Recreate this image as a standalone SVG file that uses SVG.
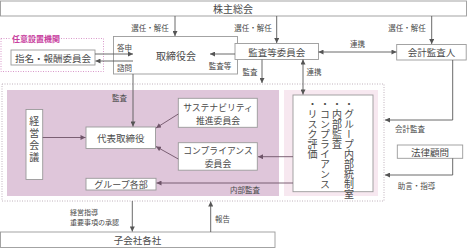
<svg xmlns="http://www.w3.org/2000/svg" width="467" height="248" viewBox="0 0 467 248">
<defs>
<style>
text{font-family:"Noto Sans CJK JP","Noto Sans",sans-serif;fill:#4a4a4a;}
.b{fill:#fff;stroke:#9a9a9a;stroke-width:0.9;}
.t{font-size:9.5px;text-anchor:middle;dominant-baseline:central;}
.s{font-size:7.5px;dominant-baseline:central;}
.c{text-anchor:middle;}
.v{font-size:10px;writing-mode:vertical-rl;}
.ln{fill:none;stroke:#5a5a5a;stroke-width:0.9;}
.li{fill:none;stroke:#6e5468;stroke-width:0.9;}
</style>
<marker id="ah" viewBox="0 0 6 6" refX="6" refY="3" markerWidth="5.5" markerHeight="5" orient="auto-start-reverse" markerUnits="userSpaceOnUse"><path d="M0,0 L6,3 L0,6 z" fill="#555"/></marker>
<marker id="ai" viewBox="0 0 6 6" refX="6" refY="3" markerWidth="5.5" markerHeight="5" orient="auto-start-reverse" markerUnits="userSpaceOnUse"><path d="M0,0 L6,3 L0,6 z" fill="#6e5468"/></marker>
</defs>
<rect width="467" height="248" fill="#fff"/>

<g id="group-area">
<rect x="2" y="84" width="382" height="117" fill="none" stroke="#b9a9b5" stroke-width="0.9" stroke-dasharray="1 1.5"/>
<rect x="7" y="90" width="272" height="106" fill="#dfc6da"/>
<rect x="284" y="90" width="94" height="106" fill="#f7e8f0"/>
</g>

<g id="optional">
<rect x="1" y="38.5" width="102.5" height="33" fill="none" stroke="#d58cc4" stroke-width="0.9" stroke-dasharray="1 1.5"/>
<rect x="10" y="33" width="49" height="11" fill="#fff"/>
<text x="12" y="38.5" class="s" style="font-size:8px;fill:#c8409e;font-weight:bold">任意設置機関</text>
</g>

<g id="shareholders">
<rect x="0.5" y="1" width="466" height="15" class="b"/>
<text x="233" y="8.5" class="t" style="font-size:10px">株主総会</text>
</g>

<g id="nomination">
<rect x="11" y="50" width="84" height="15" class="b"/>
<text x="53" y="57.5" class="t">指名・報酬委員会</text>
</g>

<g id="board">
<rect x="113.5" y="36.5" width="124" height="37.5" class="b"/>
<text x="176" y="55" class="t" style="font-size:10px">取締役会</text>
<text x="124.5" y="47" class="s c">答申</text>
<text x="124.5" y="67.5" class="s c">諮問</text>
<text x="220" y="65" class="s c">監査等</text>
</g>

<g id="audit-committee">
<rect x="235" y="43.5" width="83.5" height="16" class="b"/>
<text x="276.7" y="51.5" class="t">監査等委員会</text>
</g>

<g id="accounting-auditor">
<rect x="396.7" y="44.5" width="69.5" height="15.5" class="b"/>
<text x="431.5" y="52.2" class="t">会計監査人</text>
</g>

<g id="management-meeting">
<rect x="26" y="109.5" width="16.7" height="70" class="b"/>
<text x="34.3" y="116" class="v" style="letter-spacing:2px">経営会議</text>
</g>

<g id="representative">
<rect x="86" y="127" width="69.5" height="21.5" class="b"/>
<text x="120.7" y="137.7" class="t">代表取締役</text>
</g>

<g id="sustainability">
<rect x="178.3" y="98.3" width="79" height="29" class="b"/>
<text x="218" y="107.5" class="t" style="font-size:8.8px">サステナビリティ</text>
<text x="218" y="120" class="t" style="font-size:8.8px">推進委員会</text>
</g>

<g id="compliance">
<rect x="178.3" y="142.7" width="79" height="27.5" class="b"/>
<text x="218" y="150.8" class="t" style="font-size:8.8px">コンプライアンス</text>
<text x="218" y="163" class="t" style="font-size:8.8px">委員会</text>
</g>

<g id="group-depts">
<rect x="86" y="178.3" width="70" height="11.7" class="b"/>
<text x="121" y="184.3" class="t" style="font-size:9px">グループ各部</text>
</g>

<g id="internal-control">
<rect x="293" y="95" width="80" height="96.7" class="b"/>
<text x="349" y="99" class="v">・グループ内部統制室</text>
<text x="337" y="99" class="v">・内部監査</text>
<text x="325" y="99" class="v">・コンプライアンス</text>
<text x="312.5" y="99" class="v">・リスク評価</text>
</g>

<g id="legal">
<rect x="397.3" y="145" width="65.4" height="13.3" class="b"/>
<text x="430" y="151.7" class="t">法律顧問</text>
</g>

<g id="subsidiaries">
<rect x="0.5" y="232" width="274.5" height="15.5" class="b"/>
<text x="137.5" y="239.8" class="t">子会社各社</text>
</g>

<g id="connectors">
<path class="ln" d="M175,16 V36" marker-end="url(#ah)"/>
<path class="ln" d="M276.7,16 V43" marker-end="url(#ah)"/>
<path class="ln" d="M431.7,16 V44" marker-end="url(#ah)"/>
<path class="ln" d="M95,54 H133" marker-end="url(#ah)"/>
<path class="ln" d="M133,61 H95.5" marker-end="url(#ah)"/>
<path class="ln" d="M235,54 H210" marker-end="url(#ah)"/>
<path class="ln" d="M318.5,52 H396.5" marker-start="url(#ah)" marker-end="url(#ah)"/>
<path class="ln" d="M262,59.5 V83" marker-end="url(#ah)"/>
<path class="ln" d="M303,59.5 V94.5" marker-start="url(#ah)" marker-end="url(#ah)"/>
<path class="ln" d="M133,74 V126.5" marker-end="url(#ah)"/>
<path class="li" d="M42.7,137.5 H85.5" marker-end="url(#ai)"/>
<path class="li" d="M178.3,114 L156,128" marker-end="url(#ai)"/>
<path class="li" d="M178.3,159 L156,146.5" marker-end="url(#ai)"/>
<path class="li" d="M293,156.7 H258" marker-end="url(#ai)"/>
<path class="li" d="M293,183 H156.5" marker-end="url(#ai)"/>
<path class="ln" d="M452.7,60 V120 H385" marker-end="url(#ah)"/>
<path class="ln" d="M452.7,158.3 V175 H385" marker-end="url(#ah)"/>
<path class="ln" d="M132.3,201 V231.5" marker-end="url(#ah)"/>
<path class="ln" d="M210.7,232 V201.5" marker-end="url(#ah)"/>
<text x="150" y="27" class="s c">選任・解任</text>
<text x="253" y="27" class="s c">選任・解任</text>
<text x="407" y="27" class="s c">選任・解任</text>
<text x="357.5" y="43.5" class="s c">連携</text>
<text x="250" y="71" class="s c">監査</text>
<text x="314" y="71.5" class="s c">連携</text>
<text x="119.5" y="97.5" class="s c">監査</text>
<text x="245" y="189.3" class="s c">内部監査</text>
<text x="410" y="128.5" class="s c">会計監査</text>
<text x="416.5" y="185" class="s c">助言・指導</text>
<text x="70" y="212" class="s" style="font-size:7px">経営指導</text>
<text x="70" y="222" class="s" style="font-size:7px">重要事項の承認</text>
<text x="215" y="218.3" class="s">報告</text>
</g>
</svg>
